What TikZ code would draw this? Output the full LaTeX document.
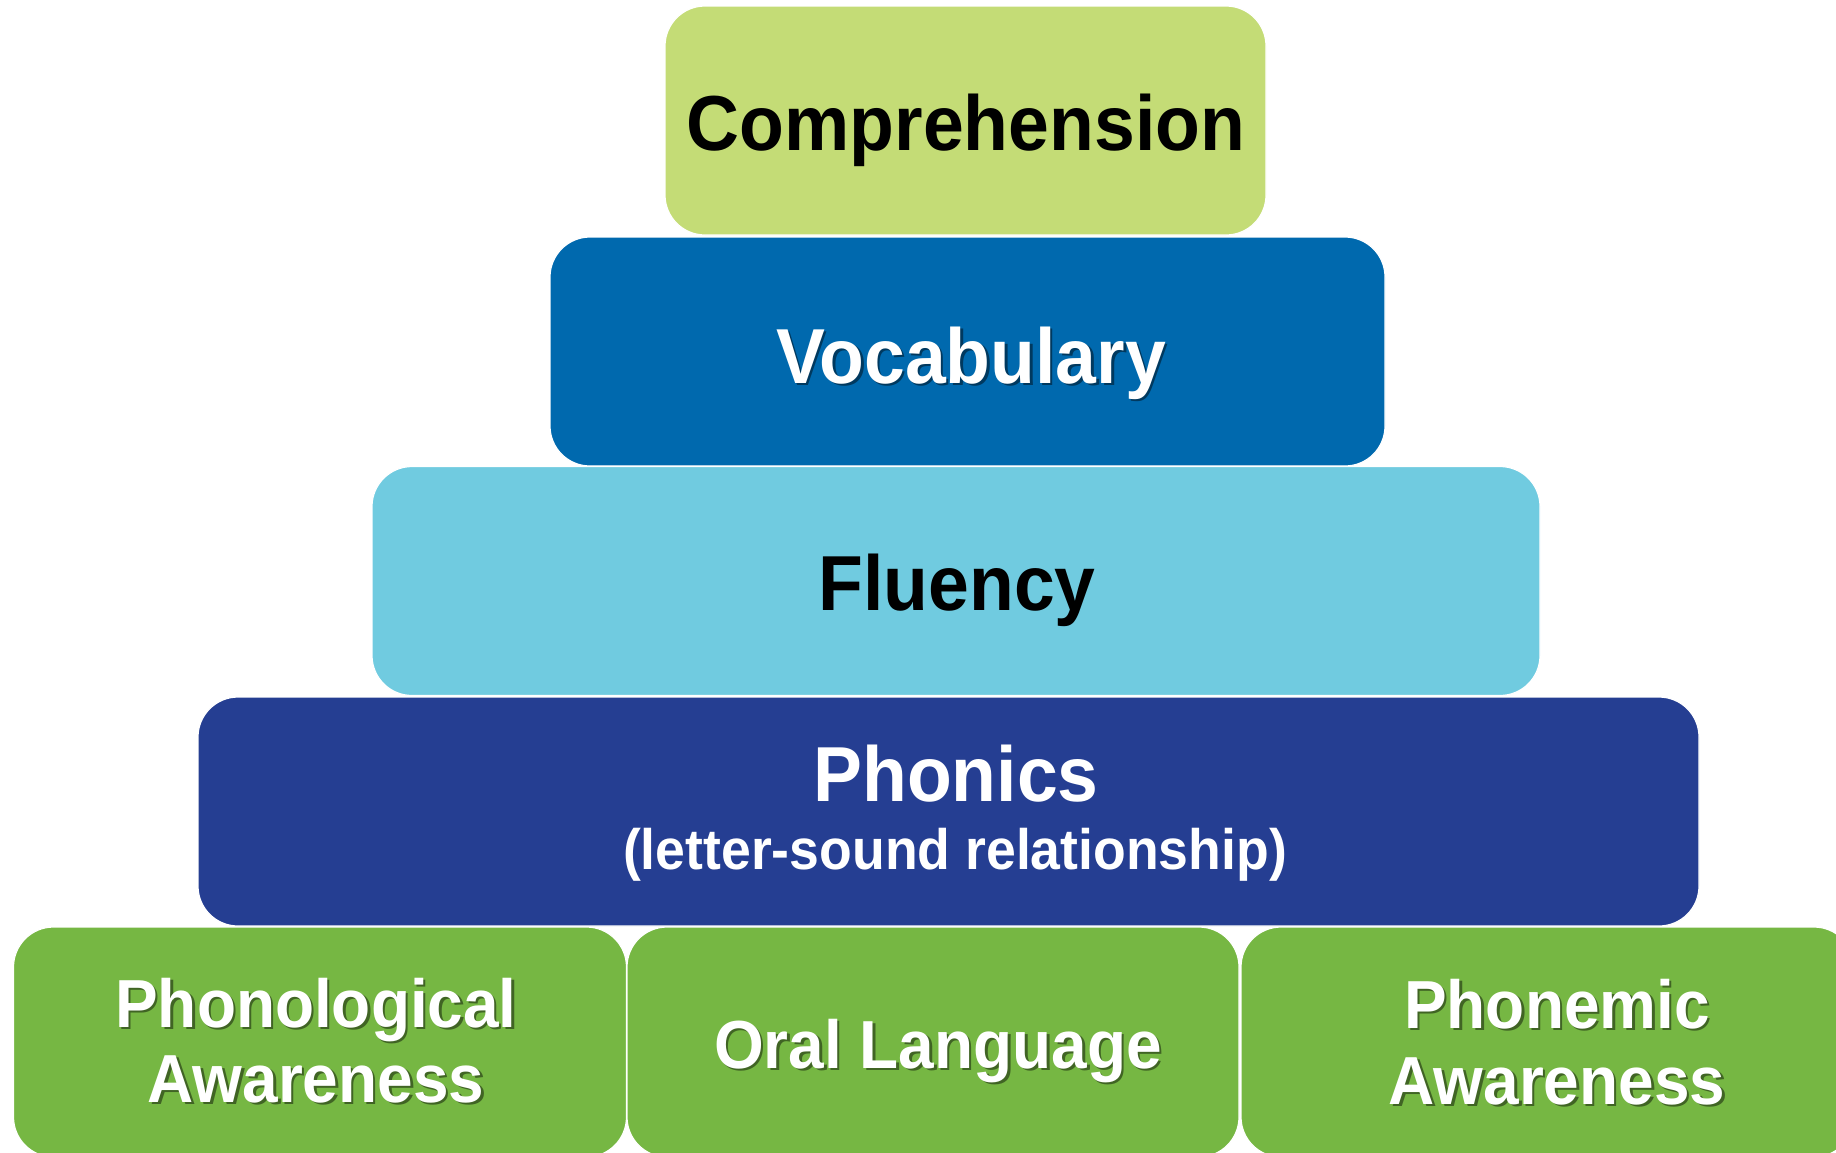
\documentclass[tikz,border=0pt]{standalone}
\usepackage{fontspec}
\newfontfamily\lab{Liberation Sans}[FakeStretch=0.94]
\definecolor{compc}{HTML}{C4DC76}
\definecolor{vocc}{HTML}{0069AE}
\definecolor{fluc}{HTML}{70CBE0}
\definecolor{phoc}{HTML}{253E92}
\definecolor{grnc}{HTML}{76B743}
\begin{document}
\begin{tikzpicture}[x=0.5pt,y=-0.5pt,
  box/.style={rectangle, rounded corners=20pt, inner sep=0pt, draw=white, line width=0.6pt},
  big/.style={inner sep=0pt, anchor=base, font=\lab\bfseries\fontsize{39}{45}\selectfont},
  sub/.style={inner sep=0pt, anchor=base, font=\lab\bfseries\fontsize{28.5}{34}\selectfont},
  low/.style={inner sep=0pt, anchor=base, font=\lab\bfseries\fontsize{34}{40}\selectfont},
  shd/.style={text=black, opacity=0.45},
  wt/.style={text=white}]
\useasboundingbox (0,0) rectangle (1836,1152);
\clip (0,0) rectangle (1836,1152);
% boxes
\node[box, fill=compc, minimum width=300.5pt, minimum height=114.5pt] (comp) at (965.5,120.5) {};
\node[box, fill=vocc, minimum width=417.5pt, minimum height=114.5pt] (voc) at (967.5,351.5) {};
\node[box, fill=fluc, minimum width=584pt, minimum height=114.5pt] (flu) at (956,581) {};
\node[box, fill=phoc, minimum width=750.5pt, minimum height=114.5pt] (pho) at (948.5,811.5) {};
\node[box, fill=grnc, minimum width=306.5pt, minimum height=115pt] (pa) at (320,1042) {};
\node[box, fill=grnc, minimum width=306pt, minimum height=115pt] (ol) at (933,1042) {};
\node[box, fill=grnc, minimum width=306.5pt, minimum height=115pt] (pm) at (1547.5,1042) {};
% texts
\node[big, text=black] (compT) at (966,150) {Comprehension};
\node[big, shd] (vocS) at (973.5,385.5) {Vocabulary};
\node[big, wt] (vocT) at (971,383) {Vocabulary};
\node[big, text=black] (fluT) at (957,610) {Fluency};
\node[big, wt] (phoT) at (956,801) {Phonics};
\node[sub, wt] (phoS) at (955,869) {(letter-sound relationship)};
\node[low, shd] (pa1S) at (318.5,1029.5) {Phonological};
\node[low, wt] (pa1) at (316,1027) {Phonological};
\node[low, shd] (pa2S) at (318.5,1104.5) {Awareness};
\node[low, wt] (pa2) at (316,1102) {Awareness};
\node[low, shd] (olS) at (940.5,1070.5) {Oral Language};
\node[low, wt] (olT) at (938,1068) {Oral Language};
\node[low, shd] (pm1S) at (1559.5,1030.5) {Phonemic};
\node[low, wt] (pm1) at (1557,1028) {Phonemic};
\node[low, shd] (pm2S) at (1559.5,1106.5) {Awareness};
\node[low, wt] (pm2) at (1557,1104) {Awareness};
\end{tikzpicture}
\end{document}
